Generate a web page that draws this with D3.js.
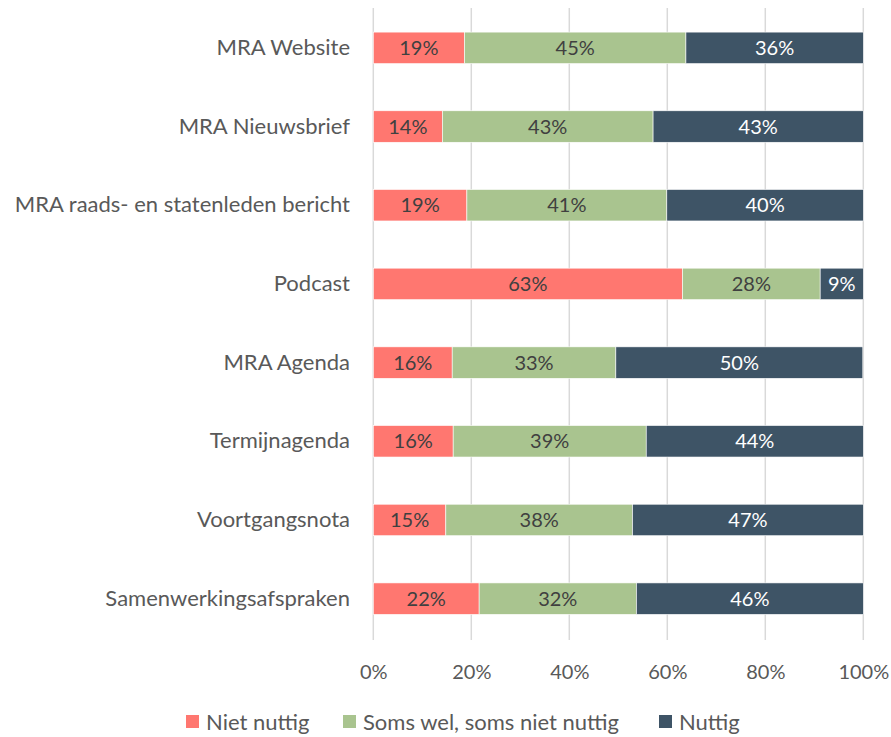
<!DOCTYPE html>
<html>
<head>
<meta charset="utf-8">
<script src="https://cdn.jsdelivr.net/npm/d3@7"></script>
<style>
  body { margin: 0; background: #fff; }
  text { font-family: Lato, "Open Sans", sans-serif; }
</style>
</head>
<body>
<svg id="chart" width="891" height="737"></svg>
<script>
// categories, top to bottom
var categories = ["MRA Website", "MRA Nieuwsbrief", "MRA raads- en statenleden bericht", "Podcast",
  "MRA Agenda", "Termijnagenda", "Voortgangsnota", "Samenwerkingsafspraken"];
var seriesNames = ["Niet nuttig", "Soms wel, soms niet nuttig", "Nuttig"];
// shares per category (fraction of respondents)
var nietNuttig = [0.186, 0.141, 0.191, 0.631, 0.161, 0.163, 0.148, 0.216];
var somsWel    = [0.452, 0.430, 0.408, 0.281, 0.334, 0.394, 0.381, 0.321];
var nuttig     = [0.362, 0.429, 0.401, 0.088, 0.504, 0.443, 0.471, 0.463];
var xTicks = [0, 0.2, 0.4, 0.6, 0.8, 1];

var colors = ["#ff7770", "#a9c48f", "#3e5466"];
var labelColors = ["#404040", "#404040", "#ffffff"];
var numSize = 20;   // percentages
var textSize = 22;  // category names and legend

var svg = d3.select("#chart");

var x = d3.scaleLinear().domain([0, 1]).range([373.3, 863.3]);
var y = d3.scaleBand().domain(categories).range([8.5, 638]).paddingInner(0.6).paddingOuter(0.3);

// gridlines
svg.append("g")
  .selectAll("line")
  .data(xTicks)
  .enter()
  .append("line")
  .attr("x1", d => x(d)).attr("x2", d => x(d))
  .attr("y1", 8).attr("y2", 640)
  .attr("stroke", "#d9d9d9")
  .attr("stroke-width", 1.5);

// stack the data
var rows = categories.map((c, i) => ({ cat: c, s0: nietNuttig[i], s1: somsWel[i], s2: nuttig[i] }));
var stack = d3.stack().keys(["s0", "s1", "s2"]);
var layers = stack(rows);

var fmt = d3.format(".0%");

var layer = svg.append("g")
  .selectAll("g")
  .data(layers)
  .enter()
  .append("g")
  .attr("fill", (d, i) => colors[i]);

layer.selectAll("rect")
  .data(d => d)
  .enter()
  .append("rect")
  .attr("x", d => x(d[0]))
  .attr("y", d => y(d.data.cat))
  .attr("width", d => x(d[1]) - x(d[0]))
  .attr("height", y.bandwidth())
  .attr("stroke", "#fff")
  .attr("stroke-width", 0.6);

// data labels
layers.forEach(function (l, i) {
  svg.append("g")
    .selectAll("text")
    .data(l)
    .enter()
    .append("text")
    .attr("x", d => (x(d[0]) + x(d[1])) / 2)
    .attr("y", d => y(d.data.cat) + y.bandwidth() / 2)
    .attr("dy", "0.36em")
    .attr("text-anchor", "middle")
    .attr("font-size", numSize)
    .attr("fill", labelColors[i])
    .text(d => fmt(d[1] - d[0]));
});

// category axis
var yAxis = svg.append("g")
  .attr("transform", "translate(350,0)")
  .call(d3.axisLeft(y).tickSize(0).tickPadding(0));
yAxis.select(".domain").remove();
yAxis.selectAll("text")
  .attr("font-size", textSize)
  .attr("font-family", "Lato")
  .attr("fill", "#595959");

// value axis
var xAxis = svg.append("g")
  .attr("transform", "translate(0,665)")
  .call(d3.axisBottom(x).tickValues(xTicks).tickFormat(d3.format(".0%")).tickSize(0).tickPadding(0));
xAxis.select(".domain").remove();
xAxis.selectAll("text")
  .attr("font-size", numSize)
  .attr("font-family", "Lato")
  .attr("fill", "#595959");

// legend
var legendX = [186, 343, 659];
var legend = svg.append("g")
  .selectAll("g")
  .data(seriesNames)
  .enter()
  .append("g")
  .attr("transform", (d, i) => `translate(${legendX[i]},715)`);
legend.append("rect")
  .attr("width", 13).attr("height", 13)
  .attr("fill", (d, i) => colors[i]);
legend.append("text")
  .attr("x", 20).attr("y", 7)
  .attr("dy", "0.36em")
  .attr("font-size", textSize)
  .attr("fill", "#595959")
  .text(d => d);
</script>
</body>
</html>
